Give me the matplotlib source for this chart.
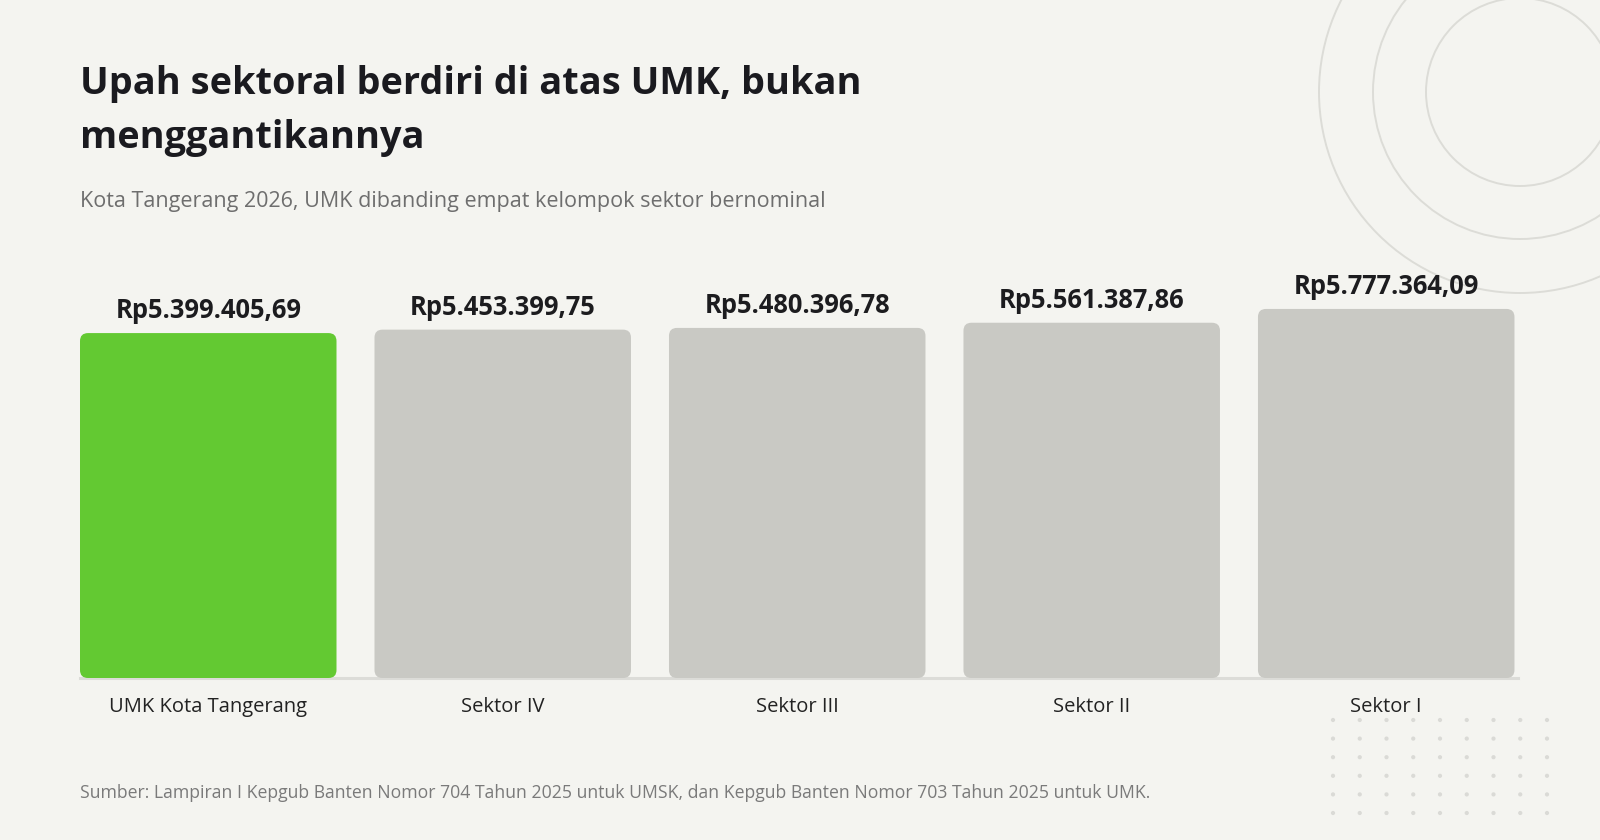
import matplotlib.pyplot as plt
from matplotlib.patches import Circle, FancyBboxPatch

plt.rcParams['font.family'] = ['Open Sans', 'DejaVu Sans']

# data
categories = ["UMK Kota Tangerang", "Sektor IV", "Sektor III", "Sektor II", "Sektor I"]
values = [5399405.69, 5453399.75, 5480396.78, 5561387.86, 5777364.09]
value_labels = ["Rp5.399.405,69", "Rp5.453.399,75", "Rp5.480.396,78",
                "Rp5.561.387,86", "Rp5.777.364,09"]
bar_colors = ["#63c932", "#c9c9c4", "#c9c9c4", "#c9c9c4", "#c9c9c4"]

title = "Upah sektoral berdiri di atas UMK, bukan\nmenggantikannya"
subtitle = "Kota Tangerang 2026, UMK dibanding empat kelompok sektor bernominal"
source = ("Sumber: Lampiran I Kepgub Banten Nomor 704 Tahun 2025 untuk UMSK, "
          "dan Kepgub Banten Nomor 703 Tahun 2025 untuk UMK.")

BG = "#f4f4f0"
W, H = 1600, 840
fig = plt.figure(figsize=(16, 8.4), dpi=100, facecolor=BG)

# background decoration in pixel coords
deco = fig.add_axes([0, 0, 1, 1], zorder=0)
deco.set_xlim(0, W)
deco.set_ylim(H, 0)
deco.axis("off")
for r in [94, 147, 201]:
    deco.add_patch(Circle((1520, 92), r, fill=False, ec="#dcdcd7", lw=1.4))
for i in range(9):
    for j in range(6):
        deco.add_patch(Circle((1333 + i * 26.75, 720 + j * 18.6), 2.1,
                              fc="#dadad6", ec="none"))

# chart axes: x 80..1518 px, y 250..678 px from top
ax_left, ax_right, ax_top, ax_bottom = 80, 1518, 250, 678
ax = fig.add_axes([ax_left / W, (H - ax_bottom) / H,
                   (ax_right - ax_left) / W, (ax_bottom - ax_top) / H], zorder=1)
ax.patch.set_alpha(0)
bw = 0.871
x = list(range(len(categories)))
ax.set_xlim(-bw / 2, len(x) - 1 + bw / 2 + 0.012)
ax.set_ylim(0, 6.7e6)

bars = ax.bar(x, values, width=bw, color=bar_colors)

# swap plain bars for rounded ones
px_x = (ax_right - ax_left) / (ax.get_xlim()[1] - ax.get_xlim()[0])
px_y = (ax_bottom - ax_top) / 6.7e6
for b in bars:
    b.set_visible(False)
    rb = FancyBboxPatch((b.get_x(), b.get_y()), b.get_width(), b.get_height(),
                        boxstyle="round,pad=0,rounding_size=%f" % (8 / px_x),
                        mutation_aspect=px_x / px_y,
                        fc=b.get_facecolor(), ec="none", zorder=2)
    ax.add_patch(rb)

ax.axhline(0, color="#dcdcd8", lw=2.2, zorder=1, clip_on=False)

for xi, v, lab in zip(x, values, value_labels):
    ax.annotate(lab, (xi, v), xytext=(0, 6.5), textcoords="offset points",
                ha="center", va="bottom", fontsize=18.4, fontweight="bold",
                color="#1c1c1f")

ax.set_xticks(x)
ax.set_xticklabels(categories, fontsize=14.5, color="#222222")
ax.tick_params(axis="x", length=0, pad=14)
ax.set_yticks([])
for s in ax.spines.values():
    s.set_visible(False)

fig.text(80 / W, 1 - 148 / H, title, fontsize=27.3, fontweight="bold",
         color="#1a1a1f", va="baseline", ha="left", linespacing=1.55)
fig.text(80 / W, 1 - 207 / H, subtitle, fontsize=15.5, color="#6e6e6e",
         va="baseline", ha="left")
fig.text(80 / W, 1 - 798 / H, source, fontsize=12.7, color="#7a7a7a",
         va="baseline", ha="left")

fig.savefig("out.png", dpi=100, facecolor=BG)
